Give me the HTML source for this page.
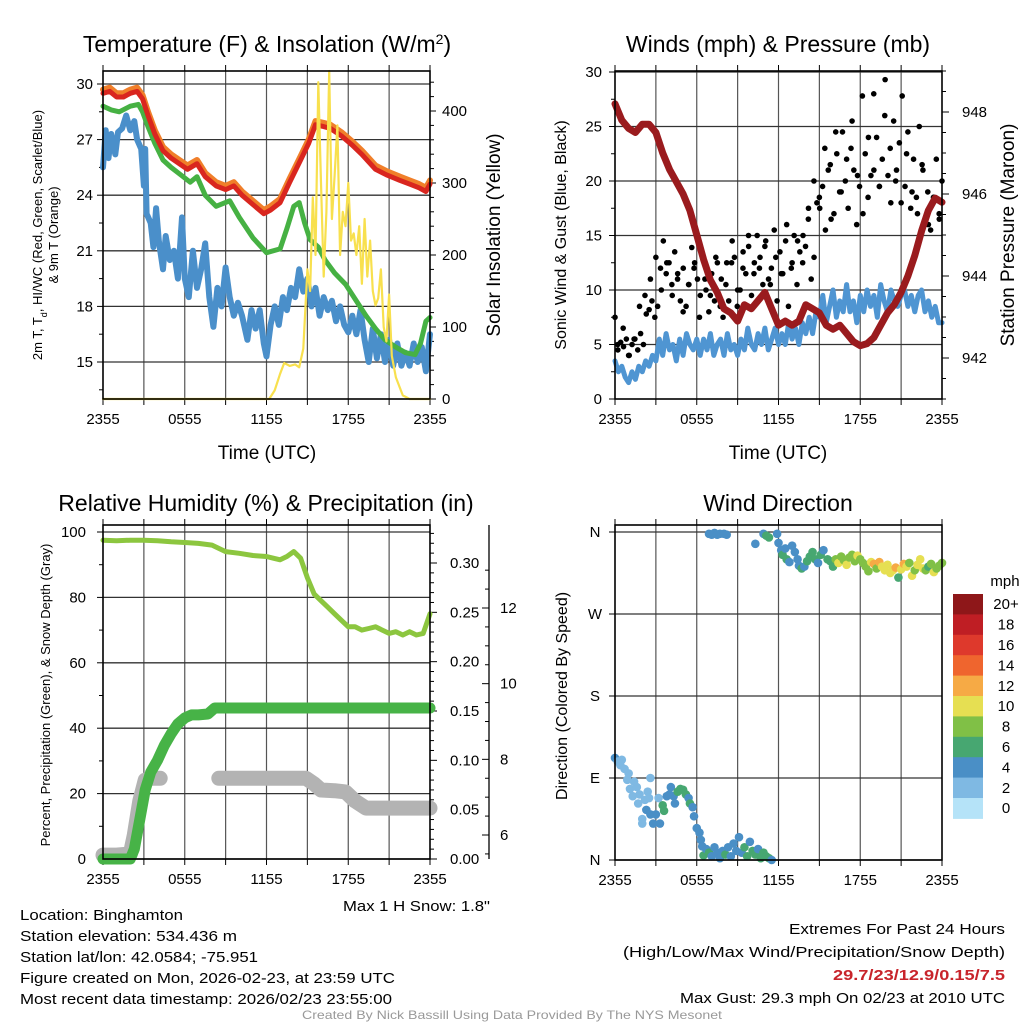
<!DOCTYPE html>
<html><head><meta charset="utf-8"><style>
html,body{margin:0;padding:0;background:#fff}
svg{display:block;font-family:"Liberation Sans",sans-serif}
</style></head><body>
<svg id="fig" width="1024" height="1024" viewBox="0 0 1024 1024" xmlns="http://www.w3.org/2000/svg">
<rect width="1024" height="1024" fill="#fff"/>
<g id="p1"></g>
<g id="p2"></g>
<g id="p3"></g>
<g id="p4"></g>
<g font-size="15" fill="#000">
<text x="20" y="920" textLength="163" lengthAdjust="spacingAndGlyphs">Location: Binghamton</text>
<text x="20" y="941" textLength="217" lengthAdjust="spacingAndGlyphs">Station elevation: 534.436 m</text>
<text x="20" y="962" textLength="238" lengthAdjust="spacingAndGlyphs">Station lat/lon: 42.0584; -75.951</text>
<text x="20" y="983" textLength="375" lengthAdjust="spacingAndGlyphs">Figure created on Mon, 2026-02-23, at 23:59 UTC</text>
<text x="20" y="1004" textLength="372" lengthAdjust="spacingAndGlyphs">Most recent data timestamp: 2026/02/23 23:55:00</text>
<text x="490" y="911" text-anchor="end" textLength="147" lengthAdjust="spacingAndGlyphs">Max 1 H Snow: 1.8"</text>
<text x="1005" y="934" text-anchor="end" textLength="216" lengthAdjust="spacingAndGlyphs">Extremes For Past 24 Hours</text>
<text x="1005" y="957" text-anchor="end" textLength="382" lengthAdjust="spacingAndGlyphs">(High/Low/Max Wind/Precipitation/Snow Depth)</text>
<text x="1005" y="980" text-anchor="end" textLength="172" lengthAdjust="spacingAndGlyphs" font-weight="bold" fill="#c8242b">29.7/23/12.9/0.15/7.5</text>
<text x="1005" y="1003" text-anchor="end" textLength="325" lengthAdjust="spacingAndGlyphs">Max Gust: 29.3 mph On 02/23 at 2010 UTC</text>
<text x="512" y="1019" text-anchor="middle" font-size="12" fill="#999" textLength="420" lengthAdjust="spacingAndGlyphs">Created By Nick Bassill Using Data Provided By The NYS Mesonet</text>
</g>
</svg>
<script>
// ---------- data ----------
const timeTicks = ["2355","0555","1155","1755","2355"];
const tempHours = [0,0.5,1,1.5,2,2.5,2.9,3.3,3.8,4.4,5,5.6,6.2,6.9,7.5,8.3,9,9.6,10.2,11,11.8,12.3,13,13.7,14.5,15.1,15.6,16.2,16.7,17.5,18.3,19,20,20.8,21.8,22.5,23.2,23.7,24];
const temp2m = [29.5,29.6,29.3,29.3,29.5,29.6,29.2,28.3,27.3,26.4,26.0,25.7,25.4,25.7,25.0,24.5,24.3,24.5,24.0,23.5,23.0,23.2,23.6,24.7,25.9,26.8,27.8,27.7,27.6,27.2,26.7,26.2,25.4,25.1,24.8,24.6,24.4,24.2,24.6];
const temp9m = [29.7,29.8,29.5,29.5,29.7,29.8,29.4,28.5,27.5,26.6,26.2,25.9,25.6,25.9,25.2,24.7,24.5,24.7,24.2,23.7,23.2,23.4,23.8,24.9,26.1,27.0,28.0,27.9,27.8,27.4,26.9,26.4,25.6,25.3,25.0,24.8,24.6,24.4,24.8];
const dewHours = [0,0.6,1.2,2,2.6,2.9,3.3,3.8,4.4,5,5.7,6.4,6.9,7.5,8.3,9.3,10,11,12,13,13.5,14,14.4,14.8,15.2,15.8,16.3,17,17.8,18.5,19.3,20,20.7,21.5,22.2,22.9,23.3,23.7,24];
const dewPoint = [28.8,28.6,28.5,28.8,28.9,28.5,27.7,26.8,25.9,25.5,25.1,24.7,25.0,24.0,23.4,23.7,22.8,21.7,20.9,21.1,22.2,23.4,23.6,22.5,21.6,21.2,20.5,19.8,19.2,18.4,17.5,16.8,16.2,15.8,15.5,15.4,16.0,17.2,17.4];
const chillHours = [0,0.2,0.4,0.6,0.9,1.1,1.4,1.7,2.0,2.3,2.5,2.8,3.0,3.1,3.2,3.5,3.7,3.9,4.1,4.4,4.6,4.9,5.2,5.5,5.8,6.0,6.3,6.6,6.9,7.2,7.5,7.8,8.1,8.4,8.7,9.0,9.3,9.6,9.9,10.2,10.6,10.9,11.2,11.5,11.8,12.0,12.3,12.6,12.9,13.2,13.5,13.8,14.1,14.4,14.7,15.0,15.3,15.6,15.9,16.2,16.5,16.8,17.1,17.4,17.7,18.0,18.3,18.6,18.9,19.2,19.5,19.8,20.1,20.4,20.7,21.0,21.3,21.6,21.9,22.2,22.5,22.8,23.1,23.4,23.7,24];
const windChill = [25.5,27.5,26.0,27.3,26.2,27.4,27.6,28.3,27.5,28.0,27.0,26.5,24.5,26.5,23.0,22.5,21.2,23.3,21.5,20.0,21.8,20.5,21.0,19.5,22.8,19.5,18.5,21.0,19.0,20.0,21.4,18.5,16.9,19.0,18.0,20.1,18.5,17.5,18.2,17.5,16.2,17.8,16.8,17.8,16.0,15.3,17.0,18.0,17.0,18.5,17.8,19.0,18.5,20.0,18.8,19.5,18.0,19.0,17.5,18.5,17.8,18.3,17.2,18.0,17.0,16.6,17.5,16.5,17.8,16.2,15.0,16.8,15.2,16.5,15.0,16.2,14.8,16.0,14.8,15.5,14.8,16.0,15.0,15.8,14.5,16.5];
const solarHours = [0,12.2,12.6,13.0,13.3,13.7,14.1,14.4,14.7,15.0,15.2,15.4,15.6,15.8,16.0,16.2,16.4,16.6,16.8,17.0,17.2,17.4,17.6,17.8,18.0,18.2,18.4,18.6,18.8,19.0,19.2,19.4,19.6,19.8,20.0,20.2,20.4,20.6,20.8,21.0,21.2,21.5,22.0,22.5,24];
const solar = [0,0,12,35,50,46,48,44,70,180,150,280,200,440,300,170,260,470,250,310,380,200,260,240,300,220,230,200,240,160,250,170,220,150,130,140,180,100,80,145,60,30,5,0,0];

const windStepHours = 0.25;
const windSpeed = [3.5,2.5,3.0,2.0,1.5,2.5,1.8,3.0,2.5,3.5,3.0,4.0,3.5,
5.5,4.0,6.0,4.5,5.0,3.5,5.5,4.0,6.0,5.0,4.5,5.5,
4.0,5.5,4.5,6.0,4.0,5.0,5.5,4.0,6.0,4.5,5.0,4.0,
5.5,4.5,6.5,5.0,4.5,6.0,5.0,6.5,4.5,5.5,6.5,5.0,
6.0,5.0,7.0,5.5,6.5,5.0,7.0,6.0,7.5,6.0,8.0,7.5,
9.5,7.0,8.5,10.0,7.5,9.0,8.0,10.5,8.0,9.0,7.0,9.5,
8.0,10.0,8.5,9.5,7.5,10.5,9.0,8.0,10.0,9.0,8.5,9.5,
10.0,8.5,9.5,8.0,9.5,10.0,8.0,9.0,7.5,8.5,7.0,7.0];
const pressureHours = [0,0.5,1,1.5,2,2.5,3,3.5,4,4.5,5,5.5,6,6.5,7,7.5,8,8.5,9,9.5,10,10.5,11,11.5,12,12.5,13,13.5,14,14.5,15,15.5,16,16.5,17,17.5,18,18.5,19,19.5,20,20.5,21,21.5,22,22.5,23,23.5,24];
const pressure = [948.2,947.8,947.6,947.5,947.7,947.7,947.5,947.0,946.6,946.3,946.0,945.6,945.0,944.4,943.9,943.6,943.2,943.1,942.9,943.3,943.2,943.4,943.6,943.2,942.8,942.9,942.8,942.9,943.3,943.2,943.1,942.8,942.7,942.8,942.6,942.4,942.3,942.35,942.5,942.8,943.1,943.3,943.6,944.0,944.5,945.1,945.6,945.9,945.8];
const gusts = [7.5,4.5,5.2,4.8,5.5,4.0,5.0,5.5,4.5,6.0,5.0,
7.8,8.2,9.0,7.5,8.5,12.0,14.5,11.5,12.5,10.5,
13.5,11.0,9.0,12.0,8.5,10.5,13.9,12.5,11.0,9.5,
13.0,10.0,8.0,11.5,9.0,12.5,8.5,7.5,10.5,9.0,
12.5,13.0,8.5,10.0,12.0,11.5,14.0,9.5,12.5,15.0,
13.0,10.5,14.5,11.0,12.0,15.5,9.0,13.5,11.5,14.5,
8.5,12.0,15.0,10.5,13.5,12.5,14.0,16.5,11.0,13.0,
18.0,17.5,19.5,15.5,21.0,16.5,17.0,22.5,19.0,24.5,
20.0,17.5,23.0,21.0,16.0,19.5,27.8,22.5,18.5,20.5,
28.0,24.0,19.5,22.0,29.3,20.5,18.0,25.5,21.0,23.5,
27.8,19.5,24.5,17.5,22.0,18.5,25.0,21.5,16.0,19.0,
15.5,18.5,22.0,17.0,20.0];
const gustsB = [5,6.5,4,5.5,8.5,9.5,11,13,10,12.5,9.5,11.5,8,10.5,12,7.5,11,9.5,13,11,
12.5,14.5,10,13.5,15,11.5,12,14,10.5,13,11.5,16,12.5,14.5,15,17.5,20,18.5,23,21.5,
24.5,19,22,25.5,20.5,17,24,21,19.5,26,23,20,18,22.5,19,17,21,16,18.5,16.5];

const rhHours = [0,1,2,3,4,5,6,7,8,9,10,11,12,12.5,13,13.5,14,14.5,15,15.5,16,16.5,17,17.5,18,18.5,19,19.5,20,20.5,21,21.5,22,22.5,23,23.5,24];
const rh = [97.5,97.3,97.5,97.5,97.3,97.0,96.8,96.5,96.0,94.0,93.5,92.8,92.5,92.0,91.5,92.5,94.0,92.0,86.0,81.0,79.0,77.0,75.0,73.0,71.0,71.0,70.0,70.5,71.0,70.0,69.0,69.5,68.5,69.5,68.5,69.0,75.0];
const precipHours = [0,1,2,2.3,2.7,3.1,3.5,4,4.5,5,5.5,6,6.5,7,7.7,8.2,8.6,24];
const precip = [0,0,0,0.01,0.04,0.07,0.088,0.10,0.115,0.127,0.137,0.143,0.146,0.146,0.147,0.153,0.153,0.153];
const snowHours = [0,1,2,2.3,2.7,3.1,3.5,4.2,null,8.5,12,14.9,15.5,16,17,17.8,18.5,19.3,24];
const snowDepth = [5.47,5.47,5.5,6.0,6.9,7.45,7.5,7.5,null,7.5,7.5,7.5,7.35,7.19,7.17,7.14,6.9,6.71,6.71];

const dirHours = [0,0.2,0.4,0.5,0.7,0.9,1.0,1.1,1.3,1.4,1.6,1.7,1.8,2.0,2.0,2.2,2.4,2.5,2.6,
2.3,2.6,2.8,3.0,3.2,3.3,3.5,3.6,3.8,4.0,4.1,4.3,4.4,4.6,4.8,5.0,5.2,5.4,5.5,5.7,5.8,6.0,6.2,6.3,6.4,
6.5,6.7,6.9,7.1,7.3,7.5,7.7,7.9,8.1,8.3,8.5,8.7,8.9,9.1,9.3,9.5,9.7,9.9,10.1,10.3,10.5,10.7,10.9,11.1,11.3,11.5,
6.9,7.1,7.3,7.5,7.7,8.0,8.2,10.3,10.9,11.1,11.3,11.9,
12.0,12.2,12.3,12.5,12.6,12.8,13.0,13.2,13.4,13.5,13.7,13.9,14.1,14.3,14.5,14.7,14.9,15.1,15.3,15.6,15.8,16.0,
16.2,16.4,16.6,16.8,17.0,17.2,17.4,17.6,17.8,18.0,18.2,18.4,18.6,18.8,19.0,19.2,19.4,19.6,19.8,20.0,20.2,20.4,20.6,20.8,21.0,21.2,21.4,21.6,21.8,22.0,22.2,22.4,22.6,22.8,23.0,23.2,23.4,23.6,23.8,24.0];
const dirDeg = [112,108,104,110,100,88,95,78,70,86,80,62,72,45,40,66,75,68,90,
55,50,40,50,68,40,60,54,70,72,80,70,62,75,78,77,72,68,62,58,48,35,30,22,15,
5,12,8,4,14,8,2,10,6,14,4,18,10,25,8,14,4,20,10,6,12,2,8,4,2,0,
358,357,359,357,358,358,357,347,358,356,354,358,
348,340,335,342,330,327,345,338,330,323,320,322,328,333,338,330,326,335,340,330,328,322,
330,326,333,329,324,332,335,328,334,330,326,322,317,327,325,320,327,322,318,324,315,318,321,310,319,325,322,326,312,318,324,330,320,318,322,325,316,320,323,326];
const dirSpeed = [4,3,2,2,2,2,2,2,2,2,2,2,2,2,2,2,2,2,2,
4,4,4,4,2,4,6,6,4,4,4,4,4,6,6,6,6,4,6,4,4,4,4,4,4,
6,4,6,4,4,4,4,4,6,4,4,4,4,4,4,6,6,4,6,6,4,6,6,6,6,4,
4,4,4,4,4,4,4,4,4,6,6,4,
4,4,6,4,6,4,4,4,4,4,6,4,6,6,6,6,4,6,4,6,6,6,
8,10,8,8,10,8,8,8,10,8,8,8,8,10,12,8,12,10,10,10,10,10,12,6,10,12,10,8,10,8,10,10,10,8,6,8,10,8,8,8];
const speedLabels = ["0","2","4","6","8","10","12","14","16","18","20+"];
const speedColors = ["#b5e3f8","#7fb9e3","#4a8fc6","#47a771","#80c046","#e6df52","#f6aa45","#ef652e","#de392c","#bf1e24","#8e1719"];
const dirLabels = ["N","E","S","W","N"];

// ---------- helpers ----------
const NS="http://www.w3.org/2000/svg";
function mk(parent,tag,attrs,txt){const e=document.createElementNS(NS,tag);for(const k in attrs)e.setAttribute(k,attrs[k]);if(txt!==undefined)e.textContent=txt;parent.appendChild(e);return e;}
function pathFrom(xs,ys,sx,sy){let d="",pen=false;for(let i=0;i<xs.length;i++){if(xs[i]===null||ys[i]===null){pen=false;continue;}d+=(pen?"L":"M")+sx(xs[i]).toFixed(1)+","+sy(ys[i]).toFixed(1);pen=true;}return d;}
function lin(d0,d1,r0,r1){return v=>r0+(v-d0)*(r1-r0)/(d1-d0);}

function frame(g,L,R,T,B){
  const sx=lin(0,24,L,R);
  for(let h=3;h<24;h+=3){const l=mk(g,"line",{x1:sx(h),x2:sx(h),y1:T,y2:B,stroke:"#555","stroke-width":1.2});
    
    }
  for(let h=0;h<=24;h+=3){const t=mk(g,"line",{x1:sx(h),x2:sx(h),y1:B,y2:B+6,stroke:"#000","stroke-width":1});
    
    
    const t2=mk(g,"line",{x1:sx(h),x2:sx(h),y1:T,y2:T-6,stroke:"#000","stroke-width":1});
    
    }
  timeTicks.forEach((s,i)=>{const t=mk(g,"text",{x:sx(i*6),y:B+25,"text-anchor":"middle","font-size":15},s);
    
    });
  return sx;
}
function border(g,L,R,T,B){const r=mk(g,"rect",{x:L,y:T,width:R-L,height:B-T,fill:"none",stroke:"#000","stroke-width":1.6});
  
  }
function hline(g,y,L,R){const l=mk(g,"line",{x1:L,x2:R,y1:y,y2:y,stroke:"#333","stroke-width":1.3});
  
  }
function line(g,xs,ys,sx,sy,color,w,name){const p=mk(g,"path",{d:pathFrom(xs,ys,sx,sy),fill:"none",stroke:color,"stroke-width":w,"stroke-linejoin":"round","stroke-linecap":"round"});
  
  return p;}
function txt(g,x,y,s,attrs,name){const t=mk(g,"text",Object.assign({x:x,y:y},attrs),s);
  
  return t;}
function tick(g,x1,y1,x2,y2,name){const t=mk(g,"line",{x1:x1,y1:y1,x2:x2,y2:y2,stroke:"#000","stroke-width":1});
  
  }

// ---------- Panel 1: temperature ----------
(function(){
  const g=document.getElementById("p1");const L=103,R=430,T=71,B=399;
  const sx=frame(g,L,R,T,B);
  const sy=lin(15,30,362,84);const sS=lin(0,400,399,111);
  for(let v=15;v<=30;v+=3){hline(g,sy(v),L,R);tick(g,L-6,sy(v),L,sy(v),'y-tick');
    txt(g,L-10,sy(v)+5,String(v),{"text-anchor":"end","font-size":15},'y-tick-label');}
  for(let v=13.5;v<=30;v+=3){tick(g,L-4,sy(v),L,sy(v),'y-minor-tick');}
  for(let v=0;v<=440;v+=20){tick(g,R,sS(v),R+(v%100===0?6:4),sS(v),'right-tick');}
  for(let v=0;v<=400;v+=100){txt(g,R+12,sS(v)+5,String(v),{"font-size":15},'right-tick-label');}
  line(g,chillHours,windChill,sx,sy,"#4a8fca",6,'heat-index-wind-chill-line');
  line(g,dewHours,dewPoint,sx,sy,"#46b143",5,'dew-point-line');
  line(g,tempHours,temp9m,sx,sy,"#f07f2a",6,'temp-9m-line');
  line(g,tempHours,temp2m,sx,sy,"#d9261f",5,'temp-2m-line');
  line(g,solarHours,solar,sx,v=>Math.max(T,sS(v)),"#f8e04e",2.2,'solar-line');
  border(g,L,R,T,B);
  const t=txt(g,267,52,"Temperature (F) & Insolation (W/m",{"text-anchor":"middle","font-size":23},'chart-title');
  mk(t,"tspan",{"baseline-shift":"super","font-size":14},"2");mk(t,"tspan",{},")");
  txt(g,267,459,"Time (UTC)",{"text-anchor":"middle","font-size":19},'x-axis-title');
  const yl=txt(g,0,0,"",{"font-size":13,"text-anchor":"middle",transform:"translate(42,235) rotate(-90)"},'y-axis-title');
  mk(yl,"tspan",{},"2m T, T");mk(yl,"tspan",{"baseline-shift":"sub","font-size":9},"d");mk(yl,"tspan",{},", HI/WC (Red, Green, Scarlet/Blue)");
  txt(g,0,0,"& 9m T (Orange)",{"font-size":13,"text-anchor":"middle",transform:"translate(58,235) rotate(-90)"},'y-axis-title-line2');
  txt(g,0,0,"Solar Insolation (Yellow)",{"font-size":19,"text-anchor":"middle",transform:"translate(500,235) rotate(-90)"},'right-axis-title');
})();

// ---------- Panel 2: winds ----------
(function(){
  const g=document.getElementById("p2");const L=615,R=942,T=71,B=399;
  const sx=frame(g,L,R,T,B);
  const sy=lin(0,30,399,72);const sP=lin(942,948,358,112);
  for(let v=0;v<=30;v+=5){if(v>0)hline(g,sy(v),L,R);tick(g,L-6,sy(v),L,sy(v),'y-tick');
    txt(g,L-13,sy(v)+5,String(v),{"text-anchor":"end","font-size":15},'y-tick-label');}
  for(let v=2.5;v<30;v+=5){tick(g,L-4,sy(v),L,sy(v),'y-minor-tick');}
  for(let v=941;v<=949.01;v+=0.5){const y=sP(v);if(y<T||y>B)continue;tick(g,R,y,R+(v%2===0?7:4),y,'right-tick');}
  for(let v=942;v<=948;v+=2){txt(g,R+20,sP(v)+5,String(v),{"font-size":15},'right-tick-label');}
  const windHours = windSpeed.map((_,i)=>i*windStepHours);
  line(g,windHours,windSpeed,sx,sy,"#4f95d2",5,'wind-speed-line');
  gusts.forEach((v,i)=>{const c=mk(g,"circle",{cx:sx(i*24/(gusts.length-1)),cy:sy(v),r:2.8,fill:"#000"});
    
    });
  gustsB.forEach((v,i)=>{const c=mk(g,"circle",{cx:sx((i+0.5)*24/gustsB.length),cy:sy(v),r:2.8,fill:"#000"});
    
    });
  line(g,pressureHours,pressure,sx,sP,"#9a1b1e",7,'pressure-line');
  border(g,L,R,T,B);
  txt(g,778,52,"Winds (mph) & Pressure (mb)",{"text-anchor":"middle","font-size":23},'chart-title');
  txt(g,778,459,"Time (UTC)",{"text-anchor":"middle","font-size":19},'x-axis-title');
  txt(g,0,0,"Sonic Wind & Gust (Blue, Black)",{"font-size":16,"text-anchor":"middle",transform:"translate(566,235) rotate(-90)"},'y-axis-title');
  txt(g,0,0,"Station Pressure (Maroon)",{"font-size":19,"text-anchor":"middle",transform:"translate(1014,235) rotate(-90)"},'right-axis-title');
})();

// ---------- Panel 3: humidity ----------
(function(){
  const g=document.getElementById("p3");const L=103,R=430,T=525,B=859;
  const sx=frame(g,L,R,T,B);
  const sy=lin(0,100,859,532);const sPr=lin(0,0.30,859,563);const sSn=lin(6,12,835,608);
  for(let v=0;v<=100;v+=20){hline(g,sy(v),L,R);tick(g,L-6,sy(v),L,sy(v),'y-tick');
    txt(g,L-17,sy(v)+5,String(v),{"text-anchor":"end","font-size":15},'y-tick-label');}
  for(let v=10;v<100;v+=20){tick(g,L-4,sy(v),L,sy(v),'y-minor-tick');}
  for(let k=0;k<=33;k++){const v=k/100;tick(g,R,sPr(v),R+(k%5===0?7:4),sPr(v),'precip-tick');}
  for(let i=0;i<=6;i++){txt(g,R+20,sPr(i*0.05)+5,(i*0.05).toFixed(2),{"font-size":15},'precip-tick-label');}
  const ax=mk(g,"line",{x1:489,x2:489,y1:T,y2:B,stroke:"#000","stroke-width":1.3});
  
  
  for(let k=11;k<=26;k++){const v=k/2;const y=sSn(v);if(y<T||y>B)continue;tick(g,489-(k%4===0?7:4),y,489,y,'snow-tick');}
  for(let v=6;v<=12;v+=2){txt(g,500,sSn(v)+5,String(v),{"font-size":15},'snow-tick-label');}
  line(g,rhHours,rh,sx,sy,"#8cc63f",5,'relative-humidity-line');
  line(g,snowHours,snowDepth,sx,sSn,"#b3b3b3",15,'snow-depth-line');
  line(g,precipHours,precip,sx,sPr,"#47b347",11,'precipitation-line');
  border(g,L,R,T,B);
  txt(g,266,511,"Relative Humidity (%) & Precipitation (in)",{"text-anchor":"middle","font-size":23},'chart-title');
  txt(g,0,0,"Percent, Precipitation (Green), & Snow Depth (Gray)",{"font-size":13,"text-anchor":"middle",transform:"translate(50,695) rotate(-90)"},'y-axis-title');
})();

// ---------- Panel 4: wind direction ----------
(function(){
  const g=document.getElementById("p4");const L=615,R=942,T=525,B=860;
  const sx=frame(g,L,R,T,B);
  const sy=lin(0,360,860,532);
  dirLabels.forEach((s,i)=>{const v=i*90;hline(g,sy(v),L,R);tick(g,L-6,sy(v),L,sy(v),'y-tick');
    txt(g,L-20,sy(v)+5,s,{"text-anchor":"middle","font-size":15},'y-tick-label');});
  dirHours.forEach((h,i)=>{const idx=Math.min(10,Math.floor(dirSpeed[i]/2));
    const c=mk(g,"circle",{cx:sx(h),cy:sy(dirDeg[i]),r:4.3,fill:speedColors[idx]});
    
    });
  border(g,L,R,T,B);
  txt(g,778,511,"Wind Direction",{"text-anchor":"middle","font-size":23},'chart-title');
  txt(g,0,0,"Direction (Colored By Speed)",{"font-size":16,"text-anchor":"middle",transform:"translate(567,696) rotate(-90)"},'y-axis-title');
  txt(g,1005,586,"mph",{"text-anchor":"middle","font-size":15},'colorbar-title');
  const top=594,h=20.4;
  speedColors.slice().reverse().forEach((c,i)=>{const r=mk(g,"rect",{x:953,y:top+i*h,width:30,height:h+0.5,fill:c});
    
    });
  speedLabels.slice().reverse().forEach((s,i)=>{txt(g,1006,top+i*h+h/2+5,s,{"text-anchor":"middle","font-size":15},'colorbar-label');});
})();
</script>
</body></html>
